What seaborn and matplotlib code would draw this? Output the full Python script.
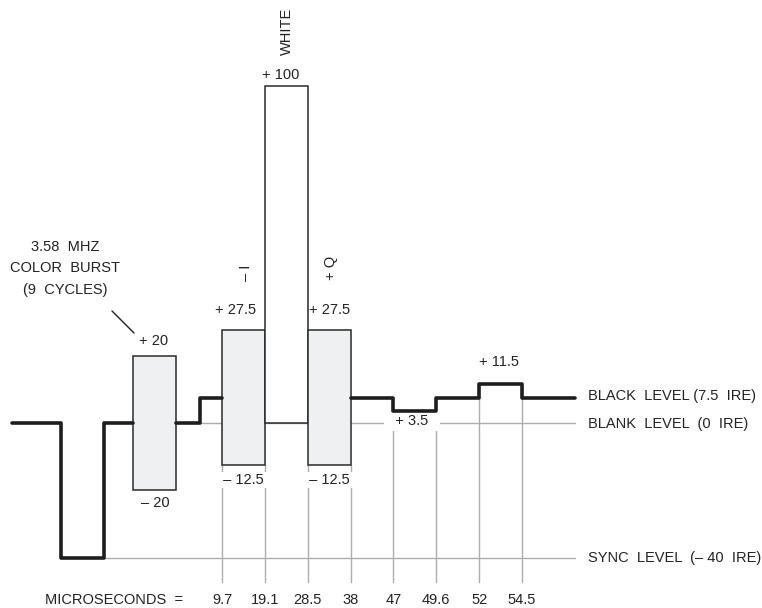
import numpy as np
import pandas as pd
import matplotlib
matplotlib.use("Agg")
import matplotlib.pyplot as plt
import seaborn as sns

sns.set_theme(style="white")
plt.rcParams["font.family"] = ["Liberation Sans", "DejaVu Sans"]

# ---- data (IRE levels, time ticks) ----
tick_times = ["9.7", "19.1", "28.5", "38", "47", "49.6", "52", "54.5"]
tick_slots = [0, 1, 2, 3, 4, 5, 6, 7]

sync_level = -40
blank_level = 0
black_level = 7.5

burst_lo, burst_hi = -20, 20
iq_lo, iq_hi = -12.5, 27.5
white_hi = 100
dip_level = 3.5
bump_level = 11.5

# waveform vertices (slot position, IRE level), grouped by segment
wave_seg = [1, 1, 1, 1, 1, 1,
            2, 2, 2, 2,
            3, 3, 3, 3, 3, 3, 3, 3, 3, 3]
wave_x = [-4.9, -3.76, -3.76, -2.75, -2.75, -2.08,
          -1.07, -0.51, -0.51, 0,
          3, 4, 4, 5, 5, 6, 6, 7, 7, 8.24]
wave_y = [0, 0, -40, -40, 0, 0,
          0, 0, 7.5, 7.5,
          7.5, 7.5, 3.5, 3.5, 7.5, 7.5, 11.5, 11.5, 7.5, 7.5]

# boxes: left slot, bottom, top
box_left = [-2.08, 0, 1, 2]
box_bottom = [burst_lo, iq_lo, blank_level, iq_lo]
box_top = [burst_hi, iq_hi, white_hi, iq_hi]
box_fill = ["#eff0f2", "#eff0f2", "#ffffff", "#eff0f2"]

# vertical guide lines start levels
guide_top = [iq_lo, iq_lo, iq_lo, iq_lo, dip_level, dip_level, bump_level, bump_level]
guide_bottom = -47.2

right_labels = ["BLACK  LEVEL (7.5  IRE)", "BLANK  LEVEL  (0  IRE)", "SYNC  LEVEL  (\u2013 40  IRE)"]

# ---- figure ----
W, H = 762, 608
fig = plt.figure(figsize=(W / 100, H / 100), dpi=100)
ax = fig.add_axes([0, 0, 1, 1])
k = 3.37       # px per IRE
sx = 42.86     # px per slot
x0, y0 = 222, 423
ax.set_xlim(-x0 / sx, (W - x0) / sx)
ax.set_ylim(-(H - y0) / k, y0 / k)
ax.axis("off")

grey = "#adadad"
fs = 10.5

# grey reference lines
ax.plot([-0.51, 8.24], [blank_level, blank_level], color=grey, lw=1, zorder=1)
ax.plot([-2.75, 8.24], [sync_level, sync_level], color=grey, lw=1, zorder=1)
for s, t in zip(tick_slots, guide_top):
    ax.plot([s, s], [t, guide_bottom], color=grey, lw=1, zorder=1)

# boxes
for l, b, t, c in zip(box_left, box_bottom, box_top, box_fill):
    ax.bar(l, t - b, bottom=b, width=1.0, align="edge", color=c,
           edgecolor="#2a2a2a", linewidth=1.1, zorder=2)

# thick waveform
df = pd.DataFrame({"x": wave_x, "y": wave_y, "seg": wave_seg})
sns.lineplot(data=df, x="x", y="y", units="seg", estimator=None, sort=False,
             color="#1e1e1e", linewidth=2.6, ax=ax, zorder=5)
ax.set_xlabel("")
ax.set_ylabel("")

tk = dict(ha="center", va="center", fontsize=fs, color="#222222")

def px(xp, yp):
    return ((xp - x0) / sx, (y0 - yp) / k)

# labels
ax.text(*px(287, 31), "WHITE", rotation=90, **tk)
ax.text(*px(281, 75), "+ 100", **tk)
ax.text(*px(246, 273), "\u2013 I", rotation=90, **tk)
ax.text(*px(331, 268), "+ Q", rotation=90, **tk)
for yy, s in zip([247, 268, 290], ["3.58  MHZ", "COLOR  BURST", "(9  CYCLES)"]):
    ax.text(*px(65, yy), s, **tk)
ax.plot(*zip(px(112, 311), px(134, 333)), color="#222222", lw=1)
ax.text(*px(154, 341), "+ 20", **tk)
ax.text(*px(155, 503), "\u2013 20", **tk)
ax.text(*px(236, 310), "+ 27.5", **tk)
ax.text(*px(330, 310), "+ 27.5", **tk)
wb = dict(facecolor="white", edgecolor="none", boxstyle="square,pad=0.05")
ax.text(*px(243.5, 480), " \u2013 12.5 ", bbox=wb, zorder=3, **tk)
ax.text(*px(329, 480), " \u2013 12.5 ", bbox=wb, zorder=3, **tk)
ax.text(*px(412, 421), "  + 3.5  ", bbox=dict(facecolor="white", edgecolor="none",
        boxstyle="square,pad=0.22"), zorder=3, **tk)
ax.text(*px(499, 362), "+ 11.5", **tk)

for yy, s in zip([396, 424, 558], right_labels):
    ax.text(*px(588, yy), s, ha="left", va="center", fontsize=fs, color="#222222")

ax.text(*px(114, 600), "MICROSECONDS  =", **tk)
for s, lab in zip(tick_slots, tick_times):
    ax.text(s, (y0 - 600) / k, lab, **tk)

fig.savefig("out.png", dpi=100)
